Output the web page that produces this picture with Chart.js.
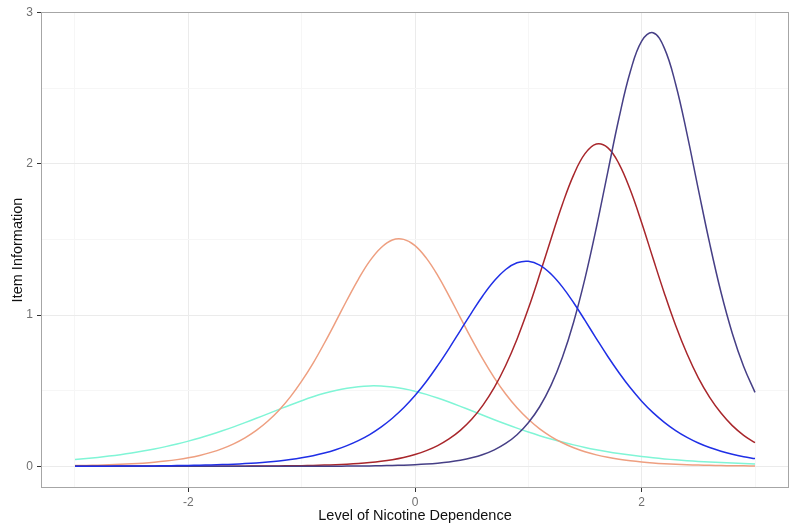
<!DOCTYPE html>
<html>
<head>
<meta charset="utf-8">
<script src="https://cdn.jsdelivr.net/npm/chart.js@4.4.1/dist/chart.umd.min.js"></script>
<style>
  html, body { margin: 0; padding: 0; background: #fff; }
</style>
</head>
<body>
<canvas id="infoChart" width="800" height="532"></canvas>
<script>
// theta grid (Level of Nicotine Dependence)
const theta = [-3, -2.9, -2.8, -2.7, -2.6, -2.5, -2.4, -2.3, -2.2, -2.1,
    -2, -1.9, -1.8, -1.7, -1.6, -1.5, -1.4, -1.3, -1.2, -1.1,
    -1, -0.9, -0.8, -0.7, -0.6, -0.5, -0.4, -0.3, -0.2, -0.1,
    0, 0.1, 0.2, 0.3, 0.4, 0.5, 0.6, 0.7, 0.8, 0.9,
    1, 1.1, 1.2, 1.3, 1.4, 1.5, 1.6, 1.7, 1.8, 1.9,
    2, 2.1, 2.2, 2.3, 2.4, 2.5, 2.6, 2.7, 2.8, 2.9, 3];

// item information
const itemAqua = [0.0447, 0.0513, 0.0589, 0.0675, 0.0772, 0.0882, 0.1006, 0.1145, 0.1301, 0.1474,
    0.1665, 0.1874, 0.2102, 0.2348, 0.261, 0.2887, 0.3175, 0.347, 0.3766, 0.4058,
    0.4336, 0.4596, 0.4826, 0.502, 0.517, 0.527, 0.5317, 0.5308, 0.5244, 0.5127,
    0.4963, 0.4756, 0.4516, 0.425, 0.3966, 0.3672, 0.3376, 0.3082, 0.2797, 0.2525,
    0.2267, 0.2027, 0.1805, 0.1602, 0.1417, 0.125, 0.11, 0.0965, 0.0846, 0.074,
    0.0646, 0.0564, 0.0491, 0.0428, 0.0372, 0.0323, 0.0281, 0.0244, 0.0212, 0.0184, 0.0159];

const itemSalmon = [0.0047, 0.0061, 0.0078, 0.01, 0.0128, 0.0164, 0.021, 0.0269, 0.0345, 0.0442,
    0.0564, 0.0721, 0.092, 0.1171, 0.1486, 0.1881, 0.2372, 0.2976, 0.371, 0.459,
    0.563, 0.681, 0.814, 0.955, 1.1, 1.237, 1.357, 1.446, 1.497, 1.501,
    1.46, 1.377, 1.263, 1.128, 0.984, 0.841, 0.707, 0.585, 0.478, 0.387,
    0.311, 0.248, 0.197, 0.1559, 0.1228, 0.0965, 0.0757, 0.0593, 0.0464, 0.0363,
    0.0283, 0.0221, 0.0172, 0.0134, 0.0105, 0.0082, 0.0064, 0.005, 0.0039, 0.003, 0.0023];

const itemBlue = [0.0006, 0.0007, 0.0009, 0.0011, 0.0014, 0.0018, 0.0022, 0.0028, 0.0036, 0.0045,
    0.0056, 0.0071, 0.0089, 0.0112, 0.0141, 0.0178, 0.0224, 0.0282, 0.0355, 0.0447,
    0.0562, 0.0704, 0.0879, 0.1097, 0.137, 0.17, 0.21, 0.259, 0.318, 0.387,
    0.468, 0.561, 0.666, 0.779, 0.898, 1.017, 1.13, 1.227, 1.302, 1.346,
    1.356, 1.331, 1.272, 1.187, 1.082, 0.965, 0.845, 0.728, 0.619, 0.519,
    0.431, 0.355, 0.291, 0.236, 0.191, 0.154, 0.124, 0.0996, 0.0797, 0.0637, 0.0509];

const itemRed = [0, 0, 0, 0, 0, 0.0001, 0.0001, 0.0001, 0.0001, 0.0002,
    0.0003, 0.0003, 0.0004, 0.0006, 0.0008, 0.0011, 0.0014, 0.0019, 0.0025, 0.0033,
    0.0044, 0.0059, 0.0079, 0.0105, 0.014, 0.0186, 0.0248, 0.0331, 0.0441, 0.0588,
    0.0782, 0.1037, 0.137, 0.181, 0.238, 0.311, 0.405, 0.522, 0.667, 0.841,
    1.043, 1.268, 1.504, 1.732, 1.928, 2.068, 2.132, 2.108, 2.001, 1.827,
    1.611, 1.376, 1.145, 0.931, 0.744, 0.585, 0.456, 0.352, 0.269, 0.205, 0.156];

const itemNavy = [0, 0, 0, 0, 0, 0, 0, 0, 0, 0,
    0, 0.0001, 0.0001, 0.0001, 0.0001, 0.0001, 0.0002, 0.0002, 0.0003, 0.0003,
    0.0004, 0.0005, 0.0007, 0.001, 0.0014, 0.002, 0.0028, 0.0039, 0.0054, 0.0076,
    0.0106, 0.0148, 0.0207, 0.0289, 0.0403, 0.056, 0.078, 0.109, 0.151, 0.209,
    0.288, 0.394, 0.535, 0.72, 0.955, 1.243, 1.578, 1.943, 2.304, 2.611,
    2.813, 2.868, 2.766, 2.527, 2.199, 1.832, 1.474, 1.151, 0.879, 0.66, 0.489];

// axis breaks
const xBreaks = [-3, -2, -1, 0, 1, 2, 3];
const xMajor = [-2, 0, 2];
const yBreaks = [0, 0.5, 1, 1.5, 2, 2.5, 3];
const yMajor = [0, 1, 2, 3];

const toPoints = vals => theta.map((t, i) => ({ x: t, y: vals[i] }));

const lineSet = (label, vals, color) => ({
    label: label,
    data: toPoints(vals),
    borderColor: color,
    borderWidth: 1.5,
    pointRadius: 0,
    fill: false,
    tension: 0.4
});

// draw the full panel frame like ggplot's panel border
const panelBorder = {
    id: 'panelBorder',
    afterDatasetsDraw(chart) {
        const a = chart.chartArea;
        const ctx = chart.ctx;
        ctx.save();
        ctx.strokeStyle = '#a6a6a6';
        ctx.lineWidth = 1;
        ctx.strokeRect(a.left + 0.5, a.top + 0.5, a.right - a.left - 1, a.bottom - a.top - 1);
        ctx.restore();
    }
};

const isMajor = (list, v) => list.some(m => Math.abs(m - v) < 1e-9);

const ctx = document.getElementById('infoChart').getContext('2d');
new Chart(ctx, {
    type: 'line',
    data: {
        datasets: [
            lineSet('Item 3', itemBlue, '#1f2fe6'),
            lineSet('Item 5', itemNavy, '#463f86'),
            lineSet('Item 4', itemRed, '#a8262b'),
            lineSet('Item 2', itemSalmon, '#ee9f80'),
            lineSet('Item 1', itemAqua, '#80f5d6')
        ]
    },
    options: {
        responsive: false,
        animation: false,
        layout: { padding: { left: 0, top: 12, right: 11, bottom: 0 } },
        plugins: {
            legend: { display: false },
            tooltip: { enabled: false }
        },
        scales: {
            x: {
                type: 'linear',
                min: -3.3,
                max: 3.3,
                afterBuildTicks: axis => { axis.ticks = xBreaks.map(v => ({ value: v })); },
                afterFit: axis => { axis.height = 44; },
                border: { display: false },
                grid: {
                    color: c => isMajor(xMajor, c.tick.value) ? '#ebebeb' : '#f6f6f6',
                    tickColor: c => isMajor(xMajor, c.tick.value) ? '#333333' : 'rgba(0,0,0,0)',
                    tickLength: 4
                },
                ticks: {
                    autoSkip: false,
                    maxRotation: 0,
                    padding: 3,
                    color: '#707070',
                    font: { family: 'Liberation Sans', size: 12 },
                    callback: v => isMajor(xMajor, v) ? String(v) : ''
                },
                title: {
                    display: true,
                    text: 'Level of Nicotine Dependence',
                    color: '#111',
                    font: { family: 'Liberation Sans', size: 14.5 },
                    padding: { top: 0, bottom: 7 }
                }
            },
            y: {
                type: 'linear',
                min: -0.1435,
                max: 3.005,
                afterBuildTicks: axis => { axis.ticks = yBreaks.map(v => ({ value: v })); },
                afterFit: axis => { axis.width = 41; },
                border: { display: false },
                grid: {
                    color: c => isMajor(yMajor, c.tick.value) ? '#ebebeb' : '#f6f6f6',
                    tickColor: c => isMajor(yMajor, c.tick.value) ? '#333333' : 'rgba(0,0,0,0)',
                    tickLength: 4
                },
                ticks: {
                    autoSkip: false,
                    padding: 4,
                    color: '#707070',
                    font: { family: 'Liberation Sans', size: 12 },
                    callback: v => isMajor(yMajor, v) ? String(v) : ''
                },
                title: {
                    display: true,
                    text: 'Item Information',
                    color: '#111',
                    font: { family: 'Liberation Sans', size: 14.5 },
                    padding: { top: 9, bottom: 0 }
                }
            }
        }
    },
    plugins: [panelBorder]
});
</script>
</body>
</html>
